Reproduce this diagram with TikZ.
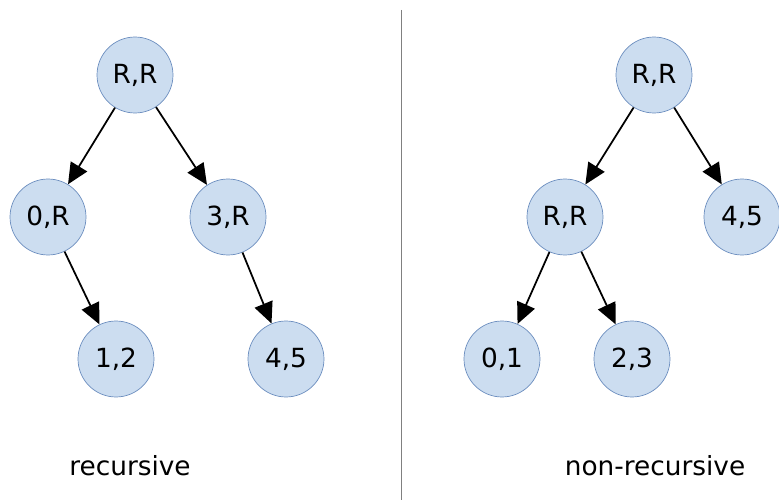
\documentclass[tikz,border=0pt]{standalone}
\usepackage{fontspec}
\setmainfont{DejaVu Sans}
\definecolor{cFill}{HTML}{CCDDF0}
\definecolor{cEdge}{HTML}{6C8EBF}
\usetikzlibrary{arrows.meta}

\begin{document}
\begin{tikzpicture}[x=0.02cm, y=-0.02cm,
		knot/.style={circle, draw=cEdge, fill=cFill, minimum size=1.52cm, inner sep=0pt, font=\fontsize{15}{18}\selectfont},
		link/.style={-{Triangle[length=0.42cm, width=0.38cm]}, line width=1pt},
		caption/.style={font=\fontsize{15}{18}\selectfont}]
			\useasboundingbox (0,0) rectangle (779,500);
			% recursive
			\node[knot] (rRoot) at (135,75) {R,R};
			\node[knot] (rA) at (48,217) {0,R};
			\node[knot] (rB) at (228,217) {3,R};
			\node[knot] (rA1) at (116,359) {1,2};
			\node[knot] (rB1) at (286,359) {4,5};
			\draw[link] (rRoot) -- (rA);
			\draw[link] (rRoot) -- (rB);
			\draw[link] (rA) -- (rA1);
			\draw[link] (rB) -- (rB1);
			\node[caption] (rText) at (130,466) {recursive};
			% divider
			\coordinate (topEnd) at (401,10);
			\coordinate (botEnd) at (401,500);
			\draw[gray] (topEnd) -- (botEnd);
			% non-recursive
			\node[knot] (nRoot) at (654,75) {R,R};
			\node[knot] (nA) at (565,217) {R,R};
			\node[knot] (nB) at (742,217) {4,5};
			\node[knot] (nA1) at (502,359) {0,1};
			\node[knot] (nA2) at (632,359) {2,3};
			\draw[link] (nRoot) -- (nA);
			\draw[link] (nRoot) -- (nB);
			\draw[link] (nA) -- (nA1);
			\draw[link] (nA) -- (nA2);
			\node[caption] (nText) at (655,466) {non-recursive};
		\end{tikzpicture}
\end{document}
